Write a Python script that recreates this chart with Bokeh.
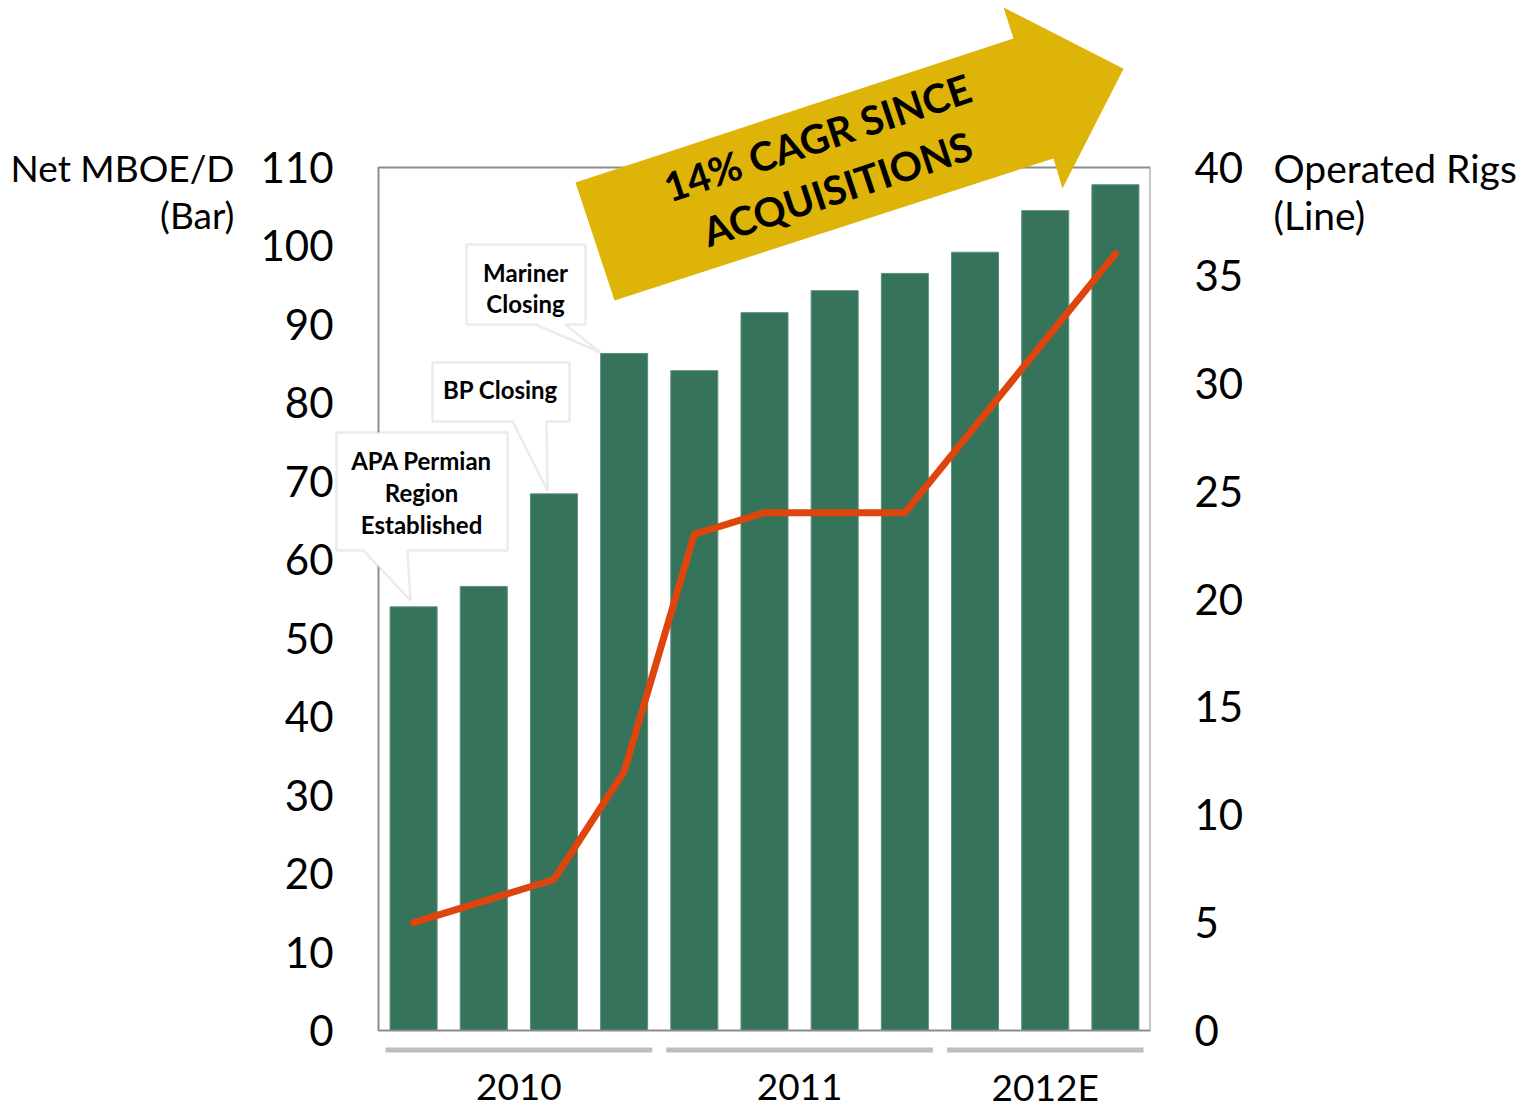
from bokeh.plotting import figure
from bokeh.models import Range1d, LinearAxis, FixedTicker, Label, PolyAnnotation
from bokeh.embed import file_html
from bokeh.resources import INLINE

# ---------------- data ----------------
periods = ["2010 Q1", "2010 Q2", "2010 Q3", "2010 Q4",
           "2011 Q1", "2011 Q2", "2011 Q3", "2011 Q4",
           "2012E Q1", "2012E Q2", "2012E Q3"]
net_mboed = [54.0, 56.6, 68.4, 86.3, 84.1, 91.5, 94.3, 96.5, 99.2, 104.5, 107.8]
operated_rigs = [5, 6, 7, 12, 23, 24, 24, 24, 28, 32, 36]
years = ["2010", "2011", "2012E"]
year_first = [1, 5, 9]
year_last = [4, 8, 11]
left_ticks = [0, 10, 20, 30, 40, 50, 60, 70, 80, 90, 100, 110]
right_ticks = [0, 5, 10, 15, 20, 25, 30, 35, 40]
LEFT_MAX, RIGHT_MAX = 110, 40

xs = list(range(1, len(periods) + 1))

# ---------------- layout (pixels) ----------------
W, H = 1526, 1108
FRAME_L, FRAME_R = 334, 1150          # drawing frame
BOX_L, BOX_T, BOX_B = 378, 167, 1030  # visible chart box
ppx = (FRAME_R - BOX_L) / len(periods)
ppy_l = (BOX_B - BOX_T) / LEFT_MAX
ppy_r = (BOX_B - BOX_T) / RIGHT_MAX

FONT = "Lato"
BAR = "#35735A"
LINE = "#DE450E"
GOLD = "#DDB407"
GREY = "#BDBDBD"

p = figure(width=W, height=H,
           x_range=Range1d(0.5 - (BOX_L - FRAME_L) / ppx, 0.5 + len(periods)),
           y_range=Range1d(-(H - BOX_B) / ppy_l, BOX_B / ppy_l),
           output_backend="svg", toolbar_location=None, x_axis_location=None,
           min_border_left=FRAME_L, min_border_right=W - FRAME_R,
           min_border_top=0, min_border_bottom=0)
p.grid.visible = False
p.outline_line_color = None
p.background_fill_color = "white"
p.border_fill_color = "white"


def style_axis(ax, standoff, size):
    ax.axis_line_color = None
    ax.major_tick_line_color = None
    ax.minor_tick_line_color = None
    ax.major_tick_out = 0
    ax.major_tick_in = 0
    ax.major_label_standoff = standoff
    ax.major_label_text_font = FONT
    ax.major_label_text_font_size = size
    ax.major_label_text_color = "black"


ya = p.yaxis[0]
ya.ticker = FixedTicker(ticks=left_ticks)
style_axis(ya, 1, "42px")

lt = LinearAxis(ticker=FixedTicker(ticks=[110, 104]),
                major_label_overrides={110: "Net MBOE/D", 104: "(Bar)"})
style_axis(lt, 23, "37px")
p.add_layout(lt, "left")

p.extra_y_ranges = {"rigs": Range1d(-(H - BOX_B) / ppy_r, BOX_B / ppy_r)}
ra = LinearAxis(y_range_name="rigs", ticker=FixedTicker(ticks=right_ticks))
style_axis(ra, 44, "42px")
p.add_layout(ra, "right")

rt = LinearAxis(ticker=FixedTicker(ticks=[110, 104]),
                major_label_overrides={110: "Operated Rigs", 104: "(Line)"})
style_axis(rt, 27, "39px")
p.add_layout(rt, "right")

# bars and line
p.vbar(x=xs, top=net_mboed, width=0.67, fill_color=BAR, line_color="#5E8E7A", line_width=1)
p.line(xs, operated_rigs, y_range_name="rigs", line_color=LINE, line_width=7,
       line_join="round", line_cap="round")

# chart box
p.quad(left=[0.5], right=[0.5 + len(periods)], bottom=[0], top=[LEFT_MAX],
       fill_color=None, line_color="#8C8C8C", line_width=2)

# growth arrow
p.add_layout(PolyAnnotation(
    xs=[3.307, 9.548, 9.406, 11.116, 10.246, 10.118, 3.863],
    ys=[108.1, 126.45, 130.4, 122.6, 107.33, 111.15, 93.05],
    fill_color=GOLD, fill_alpha=1.0, line_color=None))
for txt, x, y in [("14% CAGR SINCE", 6.755, 113.8), ("ACQUISITIONS", 7.04, 107.3)]:
    p.add_layout(Label(x=x, y=y, text=txt, angle=0.323, text_font=FONT,
                       text_font_size="40px", text_font_style="bold",
                       text_align="center", text_baseline="middle", text_color="black"))

# callouts
callouts = [
    ([1.754, 3.450, 3.450, 3.165, 3.663, 2.737, 1.754],
     [100.19, 100.19, 89.99, 89.99, 86.42, 89.99, 89.99],
     [("Mariner", 2.595, 96.62), ("Closing", 2.595, 92.67)]),
    ([1.269, 3.222, 3.222, 2.894, 2.908, 2.409, 1.269],
     [85.15, 85.15, 77.63, 77.63, 68.83, 77.63, 77.63],
     [("BP Closing", 2.238, 81.71)]),
    ([-0.098, 2.338, 2.338, 0.913, 0.956, 0.286, -0.098],
     [76.23, 76.23, 61.19, 61.19, 54.81, 61.19, 61.19],
     [("APA Permian", 1.113, 72.66), ("Region", 1.113, 68.58), ("Established", 1.113, 64.50)]),
]
for cx, cy, lines in callouts:
    p.add_layout(PolyAnnotation(xs=cx, ys=cy, fill_color="white", fill_alpha=1.0,
                                line_color=GREY, line_width=2.5))
    for txt, x, y in lines:
        p.add_layout(Label(x=x, y=y, text=txt, text_font=FONT, text_font_size="24px",
                           text_font_style="bold", text_align="center",
                           text_baseline="middle", text_color="black"))

# year groups
for yr, a, b in zip(years, year_first, year_last):
    p.add_layout(PolyAnnotation(xs=[a - 0.4, b + 0.4, b + 0.4, a - 0.4],
                                ys=[-2.17, -2.17, -2.80, -2.80],
                                fill_color=GREY, fill_alpha=1.0, line_color=None))
    p.add_layout(Label(x=(a + b) / 2, y=-7.2, text=yr, text_font=FONT,
                       text_font_size="37px", text_align="center",
                       text_baseline="middle", text_color="black"))

open("out.html", "w").write(file_html(p, INLINE))
